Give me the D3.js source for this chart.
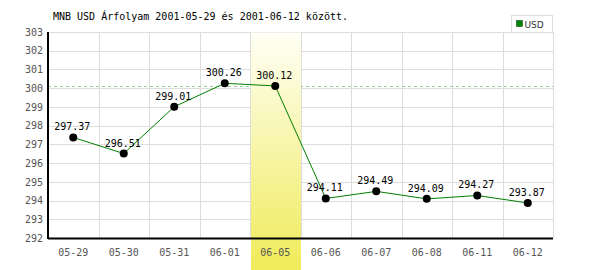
<!DOCTYPE html>
<html>
<head>
<meta charset="utf-8">
<script src="https://cdn.jsdelivr.net/npm/d3@7"></script>
<style>
  body { margin: 0; background: #fff; }
  svg { display: block; }
</style>
</head>
<body>
<div class="chart"></div>
<script>
// data
const dates = ['05-29', '05-30', '05-31', '06-01', '06-05', '06-06', '06-07', '06-08', '06-11', '06-12'];
const usdRates = [297.37, 296.51, 299.01, 300.26, 300.12, 294.11, 294.49, 294.09, 294.27, 293.87];
const yDomain = [292, 303];
const highlightDate = '06-05';
const refRate = 300.12;
const title = 'MNB USD Árfolyam 2001-05-29 és 2001-06-12 között.';
const seriesName = 'USD';

// dimensions
const width = 600;
const height = 270;
const margin = { top: 32, right: 47, bottom: 32, left: 48 };
const innerWidth = width - margin.left - margin.right;
const innerHeight = height - margin.top - margin.bottom;

// colors
const gridColor = '#dddddd';
const lineColor = '#008000';
const textGray = '#555555';
const mono = '"DejaVu Sans Mono", "Liberation Mono", monospace';

const svg = d3.select('.chart')
  .append('svg')
    .attr('width', width)
    .attr('height', height);

const defs = svg.append('defs');
const grad = defs.append('linearGradient')
    .attr('id', 'hl')
    .attr('x1', 0).attr('y1', 0)
    .attr('x2', 0).attr('y2', 1);
grad.append('stop').attr('offset', '0%').attr('stop-color', '#fffff6');
grad.append('stop').attr('offset', '100%').attr('stop-color', '#efeb58');

const inner = svg.append('g')
    .attr('transform', `translate(${margin.left}, ${margin.top})`);

// scales
const xScale = d3.scaleBand()
  .domain(dates)
  .range([0, innerWidth])
  .padding(0);

const yScale = d3.scaleLinear()
  .domain(yDomain)
  .range([innerHeight, 0]);

const yTicks = d3.range(yDomain[0], yDomain[1] + 1);

// grid
inner.append('g')
  .selectAll('line')
  .data(yTicks)
  .join('line')
    .attr('x1', 0)
    .attr('x2', innerWidth)
    .attr('y1', d => Math.round(yScale(d)) + 0.5)
    .attr('y2', d => Math.round(yScale(d)) + 0.5)
    .attr('stroke', gridColor)
    .attr('stroke-width', 1);

inner.append('g')
  .selectAll('line')
  .data(dates.map((d, i) => i + 1))
  .join('line')
    .attr('x1', i => Math.round(i * xScale.step()) + 0.5)
    .attr('x2', i => Math.round(i * xScale.step()) + 0.5)
    .attr('y1', 0)
    .attr('y2', innerHeight)
    .attr('stroke', gridColor)
    .attr('stroke-width', 1);

// reference dashed line
inner.append('line')
    .attr('x1', 0)
    .attr('x2', innerWidth)
    .attr('y1', Math.round(yScale(refRate)) + 0.5)
    .attr('y2', Math.round(yScale(refRate)) + 0.5)
    .attr('stroke', '#99cc99')
    .attr('stroke-width', 1)
    .attr('stroke-dasharray', '3,3');

// highlight band
inner.append('rect')
    .attr('x', Math.round(xScale(highlightDate)) + 1)
    .attr('y', 0.5)
    .attr('width', Math.round(xScale.bandwidth()) - 1)
    .attr('height', height - margin.top)
    .attr('fill', 'url(#hl)');

// line
const line = d3.line()
  .x((d, i) => xScale(dates[i]) + xScale.bandwidth() / 2)
  .y(d => yScale(d));

inner.append('path')
    .datum(usdRates)
    .attr('d', line)
    .attr('fill', 'none')
    .attr('stroke', lineColor)
    .attr('stroke-width', 1);

// points
inner.append('g')
  .selectAll('circle')
  .data(usdRates)
  .join('circle')
    .attr('cx', (d, i) => xScale(dates[i]) + xScale.bandwidth() / 2)
    .attr('cy', d => yScale(d))
    .attr('r', 4)
    .attr('fill', '#000');

// value labels
inner.append('g')
  .selectAll('text')
  .data(usdRates)
  .join('text')
    .attr('x', (d, i) => xScale(dates[i]) + xScale.bandwidth() / 2 - 1)
    .attr('y', d => yScale(d) - 7)
    .attr('text-anchor', 'middle')
    .attr('font-family', mono)
    .attr('font-size', 10)
    .attr('fill', '#000')
    .text(d => d.toFixed(2));

// axes
const bottomAxis = d3.axisBottom(xScale).tickSize(0).tickPadding(11);
inner.append('g')
    .attr('transform', `translate(0, ${innerHeight})`)
    .call(bottomAxis)
    .call(g => g.select('.domain').attr('stroke', '#000').attr('stroke-width', 2).attr('d', `M0,0.5H${innerWidth}`))
    .call(g => g.selectAll('text').attr('font-family', mono).attr('font-size', 10).attr('fill', textGray));

const leftAxis = d3.axisLeft(yScale).tickValues(yTicks).tickSize(0).tickPadding(5).tickFormat(d3.format('d'));
inner.append('g')
    .call(leftAxis)
    .call(g => g.select('.domain').attr('stroke', '#000').attr('stroke-width', 2).attr('d', `M0,0V${innerHeight + 1}`))
    .call(g => g.selectAll('text').attr('font-family', mono).attr('font-size', 10).attr('fill', textGray));

// title
svg.append('text')
    .attr('x', 53)
    .attr('y', 20)
    .attr('font-family', mono)
    .attr('font-size', 10)
    .attr('fill', '#000')
    .text(title);

// legend
const legend = svg.append('g')
    .attr('transform', 'translate(511.5, 15.5)');
legend.append('rect')
    .attr('width', 41)
    .attr('height', 17)
    .attr('fill', '#fff')
    .attr('stroke', gridColor);
legend.append('rect')
    .attr('x', 5)
    .attr('y', 5)
    .attr('width', 6)
    .attr('height', 6)
    .attr('fill', lineColor)
    .attr('stroke', '#004400')
    .attr('stroke-width', 0.5);
legend.append('text')
    .attr('x', 13)
    .attr('y', 12)
    .attr('font-family', '"DejaVu Sans", sans-serif')
    .attr('font-size', 9)
    .attr('fill', '#333')
    .text(seriesName);
</script>
</body>
</html>
